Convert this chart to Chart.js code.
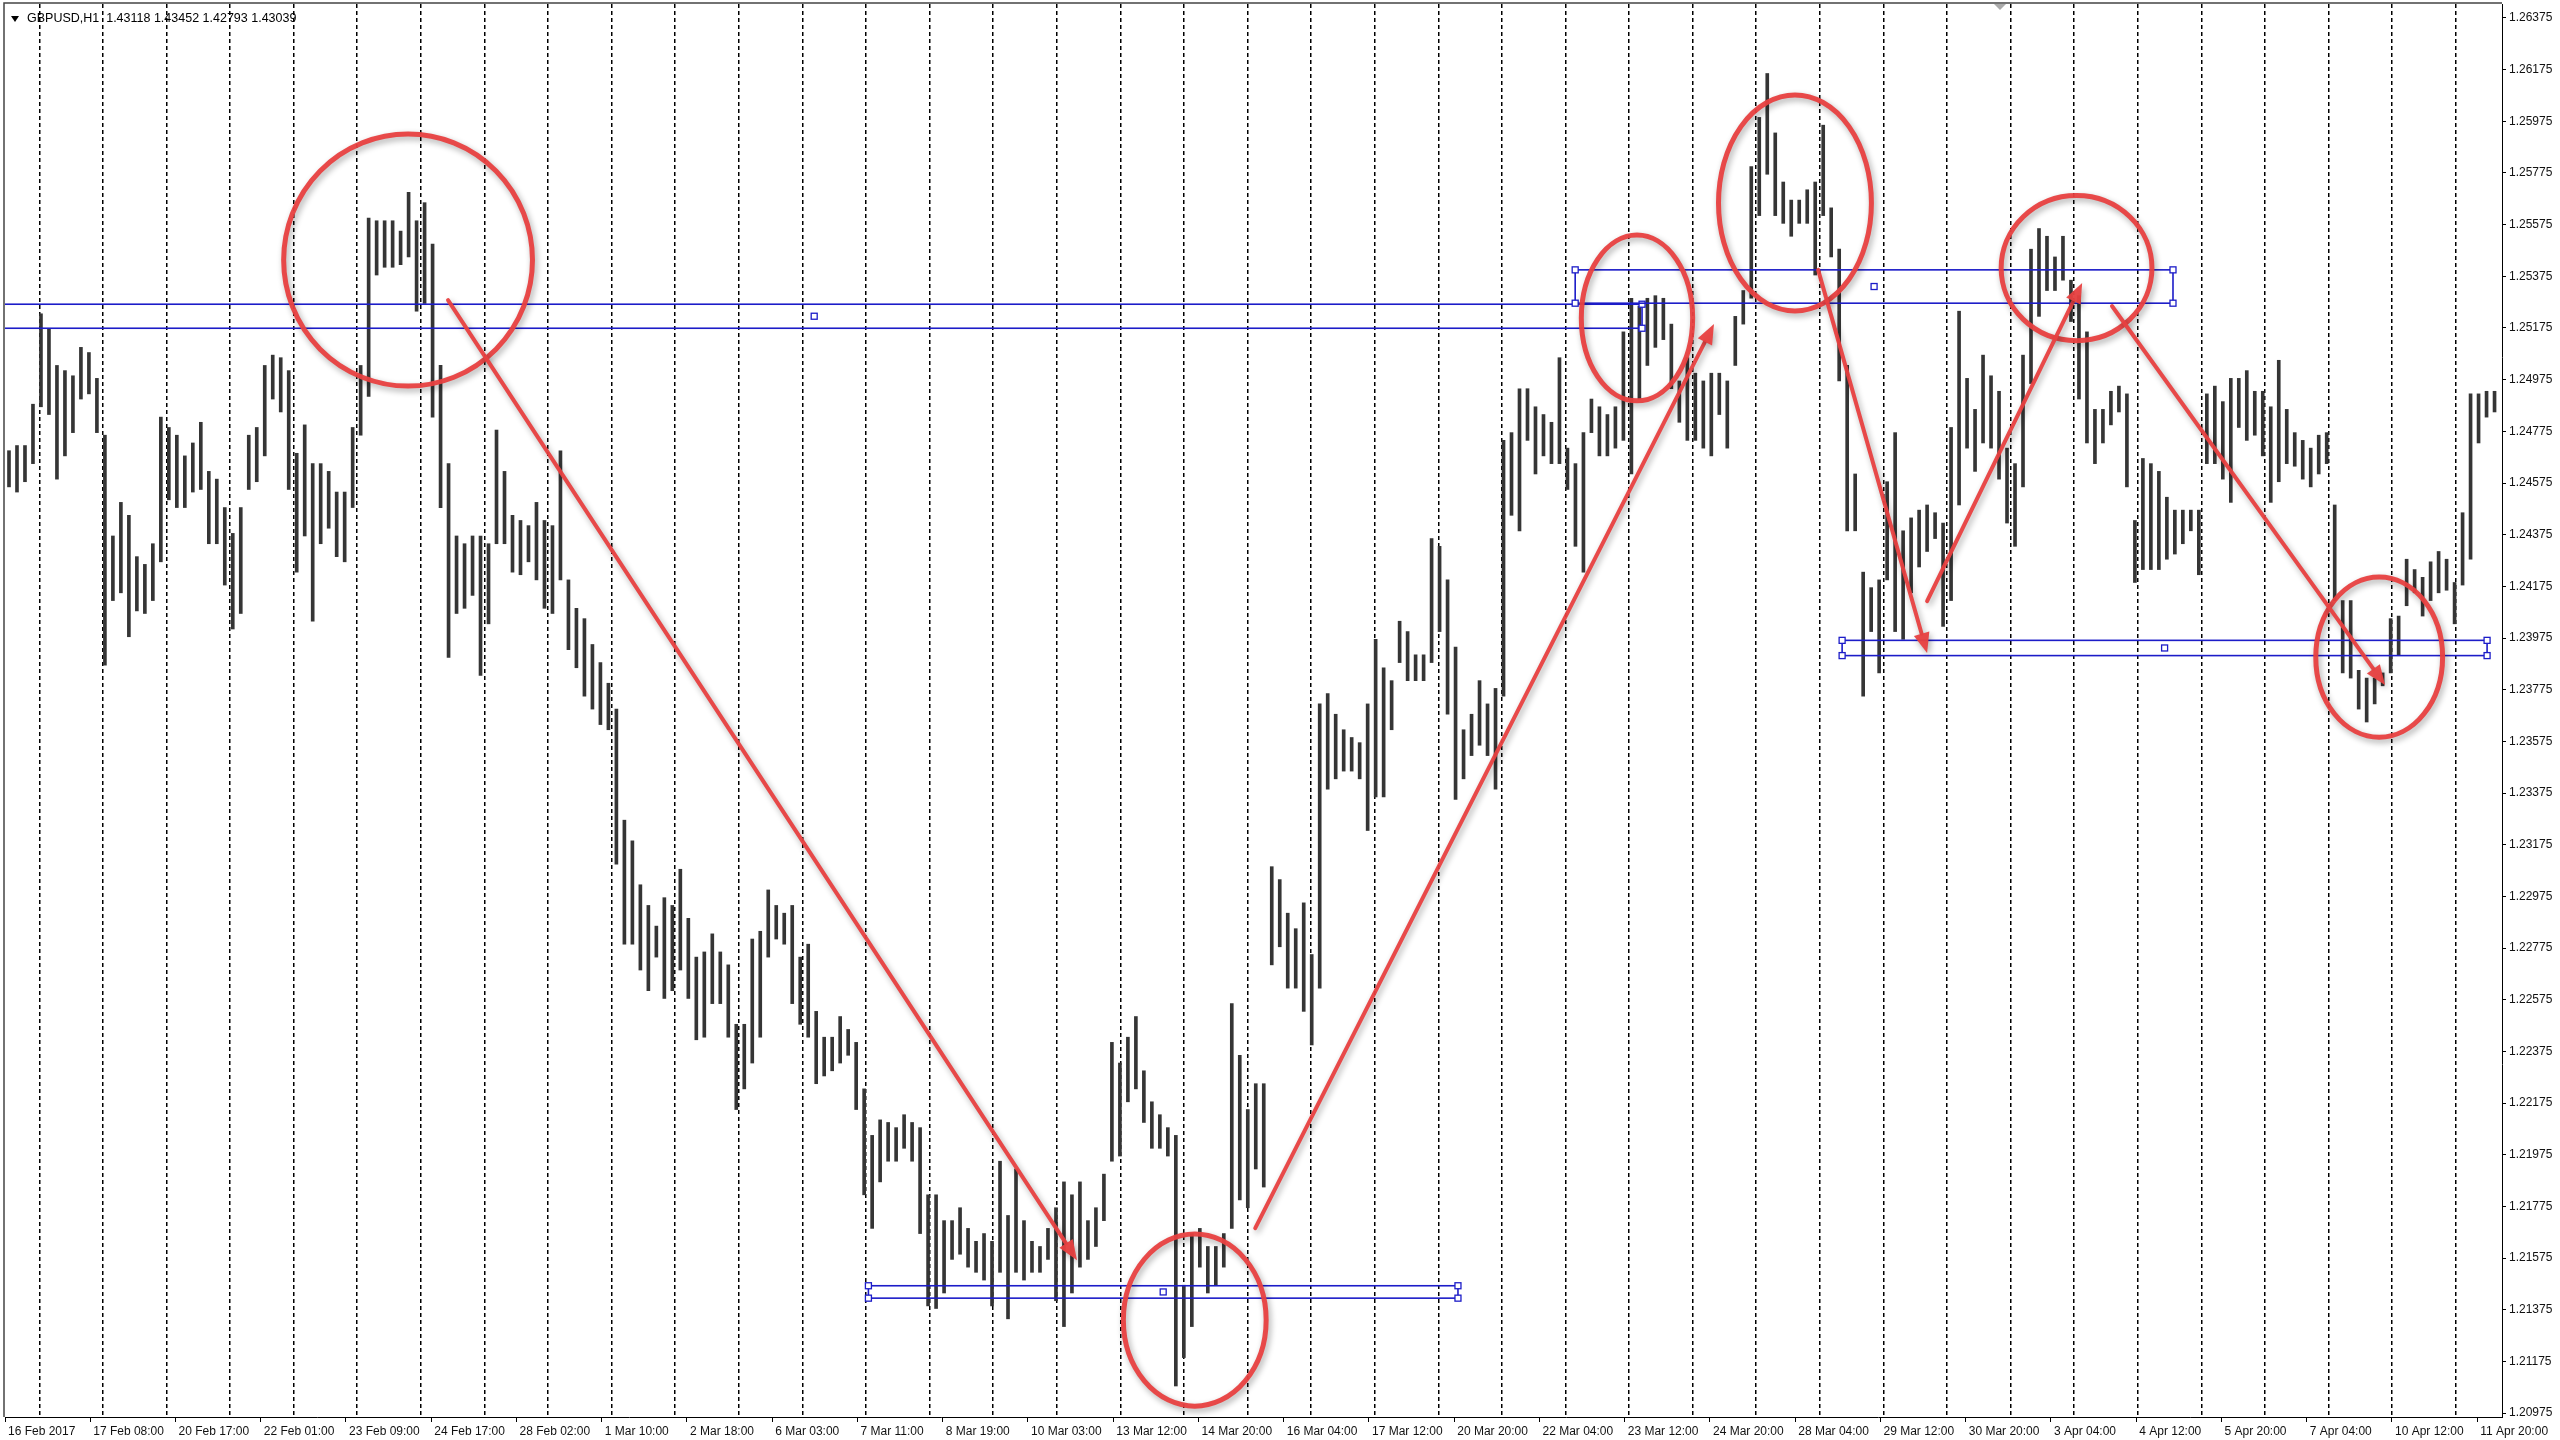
<!DOCTYPE html>
<html>
<head>
<meta charset="utf-8">
<script src="https://cdn.jsdelivr.net/npm/chart.js@4.4.0/dist/chart.umd.min.js"></script>
<style>html,body{margin:0;padding:0;background:#fff}canvas{display:block}</style>
</head>
<body>
<canvas id="chart" width="2560" height="1440"></canvas>
<script>
const headerText = 'GBPUSD,H1  1.43118 1.43452 1.42793 1.43039';

// x tick labels, one every 32 hourly bars
const timeLabels = ['16 Feb 2017','17 Feb 08:00','20 Feb 17:00','22 Feb 01:00','23 Feb 09:00','24 Feb 17:00',
  '28 Feb 02:00','1 Mar 10:00','2 Mar 18:00','6 Mar 03:00','7 Mar 11:00','8 Mar 19:00','10 Mar 03:00',
  '13 Mar 12:00','14 Mar 20:00','16 Mar 04:00','17 Mar 12:00','20 Mar 20:00','22 Mar 04:00','23 Mar 12:00',
  '24 Mar 20:00','28 Mar 04:00','29 Mar 12:00','30 Mar 20:00','3 Apr 04:00','4 Apr 12:00','5 Apr 20:00',
  '7 Apr 04:00','10 Apr 12:00','11 Apr 20:00'];
const labelEvery = 32;

const priceTicks = [1.20975,1.21175,1.21375,1.21575,1.21775,1.21975,1.22175,1.22375,1.22575,1.22775,
  1.22975,1.23175,1.23375,1.23575,1.23775,1.23975,1.24175,1.24375,1.24575,1.24775,1.24975,1.25175,
  1.25375,1.25575,1.25775,1.25975,1.26175,1.26375];

// one entry per 3 hourly bars
const barHours = 3;
const highs = [
1.2470,1.2472,1.2472,1.2488,1.2523,1.2517,1.2503,1.2501,1.2499,1.2510,
1.2508,1.2498,1.2476,1.2437,1.2450,1.2445,1.2429,1.2426,1.2434,1.2483,
1.2479,1.2476,1.2468,1.2473,1.2481,1.2462,1.2459,1.2448,1.2438,1.2448,
1.2476,1.2479,1.2503,1.2507,1.2506,1.2501,1.2469,1.2480,1.2465,1.2465,
1.2462,1.2454,1.2454,1.2479,1.2503,1.2560,1.2559,1.2559,1.2559,1.2555,
1.2570,1.2559,1.2566,1.2550,1.2503,1.2465,1.2437,1.2434,1.2437,1.2437,
1.2434,1.2478,1.2462,1.2445,1.2443,1.2441,1.2450,1.2443,1.2441,1.2470,
1.2420,1.2409,1.2405,1.2395,1.2388,1.2380,1.2370,1.2327,1.2319,1.2302,
1.2294,1.2286,1.2297,1.2294,1.2308,1.2289,1.2274,1.2276,1.2283,1.2276,
1.2271,1.2248,1.2248,1.2281,1.2284,1.2300,1.2294,1.2291,1.2294,1.2274,
1.2279,1.2253,1.2243,1.2243,1.2251,1.2246,1.2241,1.2223,1.2205,1.2211,
1.2210,1.2208,1.2213,1.2210,1.2208,1.2182,1.2182,1.2172,1.2172,1.2177,
1.2169,1.2164,1.2167,1.2164,1.2195,1.2174,1.2192,1.2172,1.2164,1.2162,
1.2169,1.2177,1.2187,1.2182,1.2187,1.2172,1.2177,1.2190,1.2241,1.2233,
1.2243,1.2251,1.2230,1.2218,1.2213,1.2208,1.2205,1.2147,1.2167,1.2169,
1.2162,1.2162,1.2167,1.2256,1.2236,1.2215,1.2225,1.2225,1.2309,1.2304,
1.2291,1.2285,1.2295,1.2275,1.2372,1.2376,1.2368,1.2362,1.2359,1.2357,
1.2372,1.2397,1.2386,1.2381,1.2404,1.2400,1.2391,1.2391,1.2436,1.2433,
1.2420,1.2394,1.2362,1.2368,1.2381,1.2372,1.2378,1.2474,1.2477,1.2494,
1.2494,1.2487,1.2484,1.2481,1.2506,1.2471,1.2465,1.2477,1.2490,1.2487,
1.2484,1.2487,1.2516,1.2529,1.2526,1.2529,1.2530,1.2529,1.2519,1.2497,
1.2506,1.2500,1.2497,1.2500,1.2500,1.2497,1.2522,1.2532,1.2580,1.2599,
1.2616,1.2593,1.2574,1.2567,1.2567,1.2571,1.2574,1.2596,1.2564,1.2548,
1.2503,1.2461,1.2423,1.2417,1.2420,1.2458,1.2477,1.2439,1.2444,1.2447,
1.2449,1.2446,1.2442,1.2479,1.2524,1.2498,1.2486,1.2507,1.2499,1.2493,
1.2471,1.2465,1.2507,1.2548,1.2556,1.2553,1.2545,1.2553,1.2536,1.2530,
1.2516,1.2486,1.2486,1.2493,1.2495,1.2492,1.2443,1.2467,1.2465,1.2462,
1.2452,1.2447,1.2447,1.2447,1.2447,1.2492,1.2495,1.2489,1.2498,1.2498,
1.2501,1.2493,1.2493,1.2487,1.2505,1.2486,1.2477,1.2474,1.2471,1.2476,
1.2477,1.2449,1.2412,1.2412,1.2385,1.2382,1.2382,1.2384,1.2405,1.2406,
1.2428,1.2424,1.2421,1.2427,1.2431,1.2428,1.2419,1.2446,1.2492,1.2492,1.2493,1.2493];
const lows = [
1.2456,1.2454,1.2458,1.2465,1.2487,1.2484,1.2459,1.2468,1.2477,1.2490,
1.2492,1.2477,1.2387,1.2412,1.2415,1.2398,1.2408,1.2407,1.2412,1.2427,
1.2451,1.2448,1.2448,1.2454,1.2455,1.2434,1.2434,1.2418,1.2401,1.2407,
1.2455,1.2458,1.2468,1.2490,1.2485,1.2455,1.2423,1.2437,1.2404,1.2434,
1.2440,1.2429,1.2427,1.2448,1.2476,1.2491,1.2538,1.2541,1.2541,1.2542,
1.2545,1.2524,1.2527,1.2483,1.2448,1.2390,1.2407,1.2409,1.2414,1.2383,
1.2403,1.2434,1.2434,1.2423,1.2422,1.2427,1.2420,1.2409,1.2407,1.2420,
1.2393,1.2386,1.2375,1.2370,1.2364,1.2362,1.2310,1.2279,1.2279,1.2269,
1.2261,1.2274,1.2258,1.2261,1.2269,1.2258,1.2242,1.2243,1.2256,1.2256,
1.2243,1.2215,1.2223,1.2233,1.2243,1.2274,1.2281,1.2279,1.2256,1.2248,
1.2243,1.2225,1.2228,1.2230,1.2233,1.2236,1.2215,1.2182,1.2169,1.2187,
1.2195,1.2195,1.2200,1.2195,1.2167,1.2139,1.2138,1.2144,1.2157,1.2159,
1.2154,1.2152,1.2149,1.2139,1.2152,1.2134,1.2152,1.2149,1.2152,1.2152,
1.2157,1.2141,1.2131,1.2144,1.2154,1.2157,1.2162,1.2172,1.2195,1.2197,
1.2218,1.2223,1.2210,1.2200,1.2200,1.2197,1.2108,1.2119,1.2131,1.2154,
1.2144,1.2147,1.2154,1.2169,1.2180,1.2177,1.2192,1.2185,1.2271,1.2278,
1.2262,1.2262,1.2253,1.2240,1.2262,1.2339,1.2343,1.2346,1.2346,1.2343,
1.2323,1.2336,1.2336,1.2362,1.2388,1.2381,1.2381,1.2381,1.2388,1.2400,
1.2368,1.2335,1.2343,1.2352,1.2356,1.2352,1.2339,1.2375,1.2445,1.2439,
1.2474,1.2461,1.2468,1.2465,1.2465,1.2455,1.2433,1.2423,1.2477,1.2468,
1.2468,1.2471,1.2474,1.2461,1.2490,1.2503,1.2510,1.2513,1.2494,1.2481,
1.2474,1.2474,1.2471,1.2468,1.2484,1.2471,1.2503,1.2519,1.2529,1.2561,
1.2577,1.2561,1.2558,1.2553,1.2558,1.2558,1.2538,1.2561,1.2545,1.2497,
1.2439,1.2439,1.2375,1.2400,1.2384,1.2420,1.2400,1.2397,1.2415,1.2425,
1.2431,1.2436,1.2402,1.2412,1.2449,1.2471,1.2462,1.2473,1.2471,1.2459,
1.2442,1.2433,1.2456,1.2496,1.2522,1.2532,1.2532,1.2536,1.2520,1.2490,
1.2473,1.2465,1.2473,1.2480,1.2485,1.2456,1.2419,1.2424,1.2424,1.2424,
1.2428,1.2430,1.2434,1.2439,1.2422,1.2465,1.2465,1.2459,1.2450,1.2479,
1.2474,1.2476,1.2468,1.2450,1.2458,1.2465,1.2464,1.2459,1.2456,1.2461,
1.2465,1.2412,1.2384,1.2382,1.2370,1.2365,1.2372,1.2379,1.2384,1.2391,
1.2410,1.2415,1.2406,1.2412,1.2415,1.2416,1.2403,1.2418,1.2428,1.2473,1.2483,1.2485];

// blue rectangles: [bar from, bar to, price top, price bottom]
const zones = [
  [-7, 614.5, 1.25267, 1.25174],
  [589.4, 813.8, 1.25400, 1.25271],
  [324.1, 545.4, 1.21468, 1.21420],
  [689.6, 931.7, 1.23966, 1.23907]
];
// red circles: [bar, price, radius in bars, radius in price]
const circles = [
  [151.3, 1.25438, 46.7, 0.00488],
  [612.6, 1.25214, 20.9, 0.00321],
  [671.9, 1.25659, 28.7, 0.00418],
  [777.6, 1.25407, 28.3, 0.00281],
  [891.2, 1.23901, 23.8, 0.00310],
  [446.6, 1.21335, 26.8, 0.00333]
];
// red arrows: [bar, price] -> [bar, price]
const arrows = [
  [166.3, 1.25283, 402.4, 1.21567],
  [469.3, 1.21691, 641.5, 1.25190],
  [680.6, 1.25400, 721.5, 1.23917],
  [721.5, 1.24118, 779.7, 1.25349],
  [790.9, 1.25260, 893.4, 1.23793]
];

const xMin = 0, xMax = 937.3;
const yMin = 1.20960, yMax = 1.26429;
const dayGridStart = 24.8, dayGridStep = 23.87;

const bars = highs.map((h, i) => ({ x: i * barHours + barHours / 2, y: [lows[i], h] }));
const font = { family: '"Liberation Sans", Arial, sans-serif', size: 12 };
const zeroPad = s => { s.paddingLeft = 0; s.paddingRight = 0; s.paddingTop = 0; s.paddingBottom = 0; };

const deco = {
  id: 'deco',
  beforeDraw(c){
    const g = c.ctx;
    g.save(); g.fillStyle = '#fff'; g.fillRect(0, 0, c.width, c.height); g.restore();
  },
  afterDatasetsDraw(c){
    const g = c.ctx, xs = c.scales.x, ys = c.scales.y, a = c.chartArea;
    const px = v => xs.getPixelForValue(v), py = v => ys.getPixelForValue(v);
    g.save();
    g.beginPath(); g.rect(a.left, a.top, a.right - a.left, a.bottom - a.top); g.clip();

    g.strokeStyle = '#1c1cc8'; g.lineWidth = 1.6;
    zones.forEach(z => {
      const x1 = px(z[0]), x2 = px(z[1]), y1 = py(z[2]), y2 = py(z[3]);
      g.strokeRect(x1, y1, x2 - x1, y2 - y1);
      [[x1,y1],[x1,y2],[x2,y1],[x2,y2],[(x1+x2)/2,(y1+y2)/2]].forEach(([hx, hy]) => {
        g.fillStyle = '#fff'; g.fillRect(hx - 3, hy - 3, 6, 6);
        g.lineWidth = 1.3; g.strokeRect(hx - 3, hy - 3, 6, 6); g.lineWidth = 1.6;
      });
    });

    g.shadowColor = 'rgba(0,0,0,0.35)'; g.shadowBlur = 6; g.shadowOffsetX = 2; g.shadowOffsetY = 3;
    g.strokeStyle = 'rgba(232,64,64,0.95)'; g.fillStyle = 'rgba(232,64,64,0.95)';
    g.lineWidth = 5;
    circles.forEach(e => {
      const cx = px(e[0]), cy = py(e[1]);
      const rx = px(e[0] + e[2]) - cx, ry = cy - py(e[1] + e[3]);
      g.beginPath(); g.ellipse(cx, cy, rx, ry, 0, 0, Math.PI * 2); g.stroke();
    });
    g.lineWidth = 4; g.lineCap = 'round';
    arrows.forEach(r => {
      const x1 = px(r[0]), y1 = py(r[1]), x2 = px(r[2]), y2 = py(r[3]);
      const ang = Math.atan2(y2 - y1, x2 - x1), hl = 20, hw = 8;
      const bx = x2 - hl * Math.cos(ang), by = y2 - hl * Math.sin(ang);
      g.beginPath(); g.moveTo(x1, y1); g.lineTo(bx, by); g.stroke();
      g.beginPath(); g.moveTo(x2, y2);
      g.lineTo(bx + hw * Math.sin(ang), by - hw * Math.cos(ang));
      g.lineTo(bx - hw * Math.sin(ang), by + hw * Math.cos(ang));
      g.closePath(); g.fill();
    });
    g.restore();
  },
  afterDraw(c){
    const g = c.ctx, a = c.chartArea;
    g.save();
    // frame on the left and top
    g.strokeStyle = '#444'; g.lineWidth = 1.5;
    g.beginPath(); g.moveTo(a.left - 1, a.bottom); g.lineTo(a.left - 1, a.top - 1); g.lineTo(a.right, a.top - 1); g.stroke();
    // header
    g.fillStyle = '#000';
    g.beginPath(); g.moveTo(11, 16); g.lineTo(19, 16); g.lineTo(15, 22); g.closePath(); g.fill();
    g.font = '12.5px "Liberation Sans", Arial, sans-serif';
    g.textBaseline = 'middle';
    g.fillText(headerText, 27, 19);
    // chart shift marker
    g.fillStyle = '#aaa';
    g.beginPath(); g.moveTo(1994, a.top); g.lineTo(2006, a.top); g.lineTo(2000, a.top + 6); g.closePath(); g.fill();
    g.restore();
  }
};

new Chart(document.getElementById('chart'), {
  type: 'bar',
  data: { datasets: [{ data: bars, backgroundColor: '#353535', borderWidth: 0, barThickness: 3, grouped: false }] },
  options: {
    responsive: false, animation: false, devicePixelRatio: 1, events: [],
    layout: { padding: { left: 5, top: 4, right: 0, bottom: 0 } },
    plugins: { legend: { display: false }, tooltip: { enabled: false } },
    scales: {
      x: {
        type: 'linear', position: 'bottom', min: xMin, max: xMax, offset: false,
        grid: { drawOnChartArea: false, offset: false, tickLength: 5, color: '#000' },
        border: { display: true, color: '#000', width: 1 },
        ticks: { autoSkip: false, maxRotation: 0, minRotation: 0, align: 'start', labelOffset: 3, padding: 2,
          color: '#111', font: font, callback: (v, i) => timeLabels[i] },
        afterBuildTicks: s => { s.ticks = timeLabels.map((t, i) => ({ value: i * labelEvery })); },
        afterFit: s => { s.height = 23; zeroPad(s); }
      },
      x2: {
        type: 'linear', position: 'bottom', min: xMin, max: xMax, offset: false,
        grid: { drawOnChartArea: true, drawTicks: false, color: '#000', lineWidth: 1.5 },
        border: { display: false, dash: [4, 3] },
        ticks: { display: false },
        afterBuildTicks: s => {
          const t = [];
          for (let v = dayGridStart; v < xMax; v += dayGridStep) t.push({ value: v });
          s.ticks = t;
        },
        afterFit: s => { s.height = 0; zeroPad(s); }
      },
      y: {
        type: 'linear', position: 'right', min: yMin, max: yMax,
        grid: { drawOnChartArea: false, tickLength: 4, color: '#000' },
        border: { display: true, color: '#000', width: 1 },
        ticks: { autoSkip: false, padding: 3, color: '#111', font: font, callback: v => Number(v).toFixed(5) },
        afterBuildTicks: s => { s.ticks = priceTicks.map(v => ({ value: v })); },
        afterFit: s => { s.width = 58; zeroPad(s); }
      }
    }
  },
  plugins: [deco]
});
</script>
</body>
</html>
